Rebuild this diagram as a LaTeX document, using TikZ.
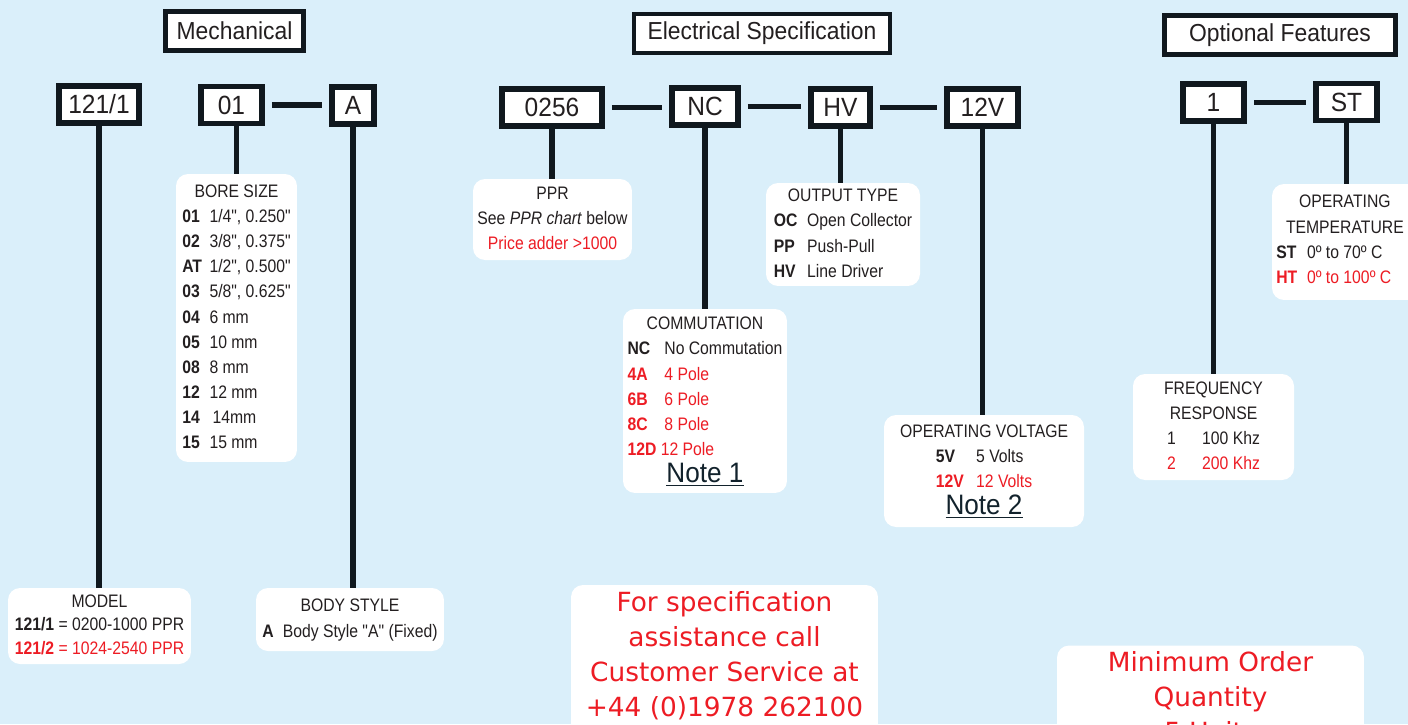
\documentclass[tikz,border=0pt]{standalone}
\usepackage{fontspec}
\setmainfont{Liberation Sans}[FakeStretch=0.87, Ligatures=TeXOff]
\newfontfamily\headfont{Liberation Sans}[FakeStretch=0.93, Ligatures=TeXOff]
\newfontfamily\callfont{DejaVu Sans}
\usepackage{tikz}
\usetikzlibrary{positioning}

\definecolor{bgblue}{RGB}{218,239,250}
\definecolor{ink}{RGB}{35,31,32}
\definecolor{specred}{RGB}{237,28,36}
\definecolor{edge}{RGB}{16,24,30}
\definecolor{notecol}{RGB}{18,34,44}
\newcommand{\redtxt}[1]{\textcolor{specred}{#1}}
\newcommand{\notetext}[1]{{\headfont\fontsize{16pt}{16pt}\selectfont\color{notecol}\underline{#1}}}

\begin{document}
\begin{tikzpicture}[
        x=0.02cm, y=-0.02cm,
        header/.style={draw=edge, line width=2.8pt, fill=white, inner sep=0pt, minimum height=0.78cm, text=ink, font=\headfont\fontsize{14pt}{16pt}\selectfont},
        code/.style={draw=edge, line width=3.4pt, fill=white, inner sep=0pt, minimum height=0.74cm, text=ink, font=\headfont\fontsize{15pt}{17pt}\selectfont},
        info/.style={fill=white, rounded corners=0.24cm, inner sep=0pt, text=ink, font=\fontsize{10.3pt}{14.3pt}\selectfont},
        callout/.style={fill=white, rounded corners=0.24cm, minimum width=6.14cm, minimum height=3.7cm},
        calltext/.style={inner sep=0pt, align=center, text=specred, font=\callfont\fontsize{15pt}{20pt}\selectfont},
        link/.style={draw=edge, line width=3pt},
        hlink/.style={link, shorten <=0.14cm, shorten >=0.14cm}
    ]
    \useasboundingbox (0,0) rectangle (1408,724);
    \clip (0,0) rectangle (1408,724);
    \fill[bgblue] (0,0) rectangle (1408,724);

    % Section headers
    \node[header, minimum width=2.76cm] (mech) at (234.5,31) {Mechanical};
    \node[header, minimum width=5.12cm] (elec) at (762,33.5) {Electrical Specification};
    \node[header, minimum width=4.62cm] (opt) at (1280,35) {Optional Features};

    % Part number codes
    \node[code, minimum width=1.6cm] (model) at (99,104.5) {121/1};
    \node[code, minimum width=1.22cm] (bore) at (231.5,105) {01};
    \node[code, minimum width=0.84cm] (body) at (353,105.5) {A};
    \node[code, minimum width=2.0cm] (ppr) at (552,107.5) {0256};
    \node[code, minimum width=1.32cm] (comm) at (705,106.5) {NC};
    \node[code, minimum width=1.18cm] (outp) at (840.5,107.5) {HV};
    \node[code, minimum width=1.42cm] (volt) at (982.5,107.5) {12V};
    \node[code, minimum width=1.22cm] (freq) at (1213.5,102.5) {1};
    \node[code, minimum width=1.22cm] (temp) at (1346.5,102) {ST};

    % Mechanical options
    \node[info, minimum width=2.42cm, minimum height=5.76cm] (boreinfo) at (236.5,318) {%
        \begin{tabular}{@{}p{15.5pt}@{}l@{}}
        \multicolumn{2}{c}{BORE SIZE}\\
        \textbf{01} & 1/4", 0.250"\\
        \textbf{02} & 3/8", 0.375"\\
        \textbf{AT} & 1/2", 0.500"\\
        \textbf{03} & 5/8", 0.625"\\
        \textbf{04} & 6 mm\\
        \textbf{05} & 10 mm\\
        \textbf{08} & 8 mm\\
        \textbf{12} & 12 mm\\
        \textbf{14} & \,14mm\\
        \textbf{15} & 15 mm
        \end{tabular}};
    \node[info, minimum width=3.66cm, minimum height=1.52cm, font=\fontsize{10.3pt}{13.3pt}\selectfont] (modelinfo) at (99.5,626) {%
        \begin{tabular}{@{}l@{}}
        \multicolumn{1}{c}{MODEL}\\
        \textbf{121/1} = 0200-1000 PPR\\
        \redtxt{\textbf{121/2} = 1024-2540 PPR}
        \end{tabular}};
    \node[info, minimum width=3.76cm, minimum height=1.26cm] (bodyinfo) at (350,619.5) {%
        \begin{tabular}{@{}l@{}}
        \multicolumn{1}{c}{BODY STYLE}\\
        \textbf{A}\enspace Body Style "A" (Fixed)
        \end{tabular}};

    % Electrical options
    \node[info, minimum width=3.18cm, minimum height=1.62cm] (pprinfo) at (552.5,219.5) {%
        \begin{tabular}{@{}c@{}}
        PPR\\
        See \textit{PPR chart} below\\
        \redtxt{Price adder >1000}
        \end{tabular}};
    \node[info, minimum width=3.28cm, minimum height=3.68cm] (comminfo) at (705,401) {%
        \begin{tabular}{@{}p{21pt}@{}l@{}}
        \multicolumn{2}{c}{COMMUTATION}\\
        \textbf{NC} & No Commutation\\
        \redtxt{\textbf{4A}} & \redtxt{4 Pole}\\
        \redtxt{\textbf{6B}} & \redtxt{6 Pole}\\
        \redtxt{\textbf{8C}} & \redtxt{8 Pole}\\
        \multicolumn{2}{@{}l@{}}{\redtxt{\textbf{12D} 12 Pole}}\\
        \multicolumn{2}{c}{\notetext{Note 1}}
        \end{tabular}};
    \node[info, minimum width=3.08cm, minimum height=2.06cm] (outpinfo) at (843,234.5) {%
        \begin{tabular}{@{}p{19pt}@{}l@{}}
        \multicolumn{2}{c}{OUTPUT TYPE}\\
        \textbf{OC} & Open Collector\\
        \textbf{PP} & Push-Pull\\
        \textbf{HV} & Line Driver
        \end{tabular}};
    \node[info, minimum width=4.0cm, minimum height=2.24cm] (voltinfo) at (984,471) {%
        \begin{tabular}{@{}c@{}}
        OPERATING VOLTAGE\\
        \begin{tabular}{@{}l@{\hspace{7pt}}l@{}}
        \textbf{5V} & 5 Volts\\
        \redtxt{\textbf{12V}} & \redtxt{12 Volts}
        \end{tabular}\\
        \notetext{Note 2}
        \end{tabular}};

    % Optional features
    \node[info, minimum width=3.22cm, minimum height=2.12cm] (freqinfo) at (1213.5,427) {%
        \begin{tabular}{@{}c@{}}
        FREQUENCY\\
        RESPONSE\\
        \begin{tabular}{@{}p{20pt}@{}l@{}}
        1 & 100 Khz\\
        \redtxt{2} & \redtxt{200 Khz}
        \end{tabular}
        \end{tabular}};
    \node[info, minimum width=3.4cm, minimum height=2.32cm] (tempinfo) at (1357,242) {};
    \node[info, fill=none, anchor=north west] (temptext) at (1276,190) {%
        \begin{tabular}{@{}p{17.5pt}@{}l@{}}
        \multicolumn{2}{@{}l@{}}{\makebox[78pt]{OPERATING}}\\
        \multicolumn{2}{@{}l@{}}{\makebox[78pt]{TEMPERATURE}}\\
        \textbf{ST} & 0º to 70º C\\
        \redtxt{\textbf{HT}} & \redtxt{0º to 100º C}
        \end{tabular}};

    % Call-outs
    \node[callout] (callbox) at (724.5,677.5) {};
    \node[calltext, below=3.4pt of callbox.north] (call) {For specification\\assistance call\\Customer Service at\\+44 (0)1978 262100};
    \node[callout] (moqbox) at (1210.5,738) {};
    \node[calltext, below=3.4pt of moqbox.north] (moq) {Minimum Order\\Quantity\\5 Units};

    % Connectors
    \draw[hlink] (bore.east) -- (bore.east -| body.west);
    \draw[hlink] (ppr.east) -- (ppr.east -| comm.west);
    \draw[hlink] (comm.east) -- (comm.east -| outp.west);
    \draw[hlink] (outp.east) -- (outp.east -| volt.west);
    \draw[hlink] (freq.east) -- (freq.east -| temp.west);

    \draw[link] (model.south) -- (model.south |- modelinfo.north);
    \draw[link] (boreinfo.north |- bore.south) -- (boreinfo.north);
    \draw[link] (body.south) -- (body.south |- bodyinfo.north);
    \draw[link] (ppr.south) -- (ppr.south |- pprinfo.north);
    \draw[link] (comm.south) -- (comm.south |- comminfo.north);
    \draw[link] (outp.south) -- (outp.south |- outpinfo.north);
    \draw[link] (volt.south) -- (volt.south |- voltinfo.north);
    \draw[link] (freq.south) -- (freq.south |- freqinfo.north);
    \draw[link] (temp.south) -- (temp.south |- tempinfo.north);
\end{tikzpicture}
\end{document}
